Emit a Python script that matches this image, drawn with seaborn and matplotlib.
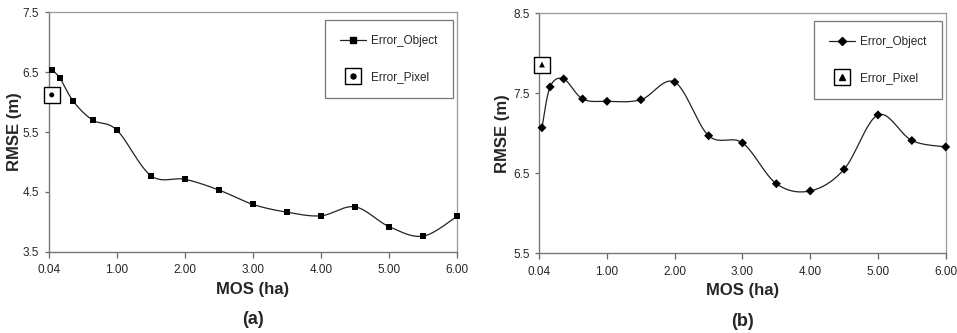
import numpy as np
import matplotlib
matplotlib.use("Agg")
import matplotlib.pyplot as plt
from matplotlib.lines import Line2D
import seaborn as sns

# data
mos = [0.04, 0.16, 0.36, 0.64, 1.00, 1.5, 2.0, 2.5, 3.0, 3.5, 4.0, 4.5, 5.0, 5.5, 6.0]
rmse_a = [6.54, 6.40, 6.01, 5.70, 5.53, 4.77, 4.71, 4.53, 4.29, 4.16, 4.10, 4.25, 3.92, 3.76, 4.09]
rmse_b = [7.07, 7.58, 7.68, 7.43, 7.40, 7.42, 7.64, 6.97, 6.88, 6.37, 6.28, 6.55, 7.23, 6.91, 6.83]
pixel_a = 6.12
pixel_b = 7.86
xtick_pos = [0, 1, 2, 3, 4, 5, 6]
xtick_labels = ["0.04", "1.00", "2.00", "3.00", "4.00", "5.00", "6.00"]

sns.set_style("ticks")
plt.rcParams["font.family"] = ["Liberation Sans", "DejaVu Sans"]


def smooth(x, y, sx, sy, n=40):
    # Excel style smoothed line (bezier through the points)
    P = np.column_stack([np.array(x) * sx, np.array(y) * sy])
    out = []
    for i in range(len(P) - 1):
        p0 = P[i - 1] if i > 0 else P[i]
        p1, p2 = P[i], P[i + 1]
        p3 = P[i + 2] if i + 2 < len(P) else P[i + 1]
        c1 = p1 + (p2 - p0) / 6
        c2 = p2 - (p3 - p1) / 6
        t = np.linspace(0, 1, n)[:, None]
        seg = (1 - t) ** 3 * p1 + 3 * (1 - t) ** 2 * t * c1 + 3 * (1 - t) * t ** 2 * c2 + t ** 3 * p2
        out.append(seg if i == 0 else seg[1:])
    out = np.vstack(out)
    return out[:, 0] / sx, out[:, 1] / sy


fig = plt.figure(figsize=(9.57, 3.33), dpi=100)
ax_a = fig.add_axes([0.0512, 0.2441, 0.4263, 0.719])
ax_b = fig.add_axes([0.5635, 0.2393, 0.4247, 0.7207])

panels = [
    (ax_a, rmse_a, pixel_a, "s", 4.3, "o", 3.6, (3.5, 7.5), [3.5, 4.5, 5.5, 6.5, 7.5], 60, "(a)", -0.066),
    (ax_b, rmse_b, pixel_b, "D", 4.6, "^", 4.2, (5.5, 8.5), [5.5, 6.5, 7.5, 8.5], 80, "(b)", -0.072),
]

for ax, vals, pix, mk, ms, pmk, pms, ylim, yticks, ypx, tag, ylab_x in panels:
    cx, cy = smooth(mos, vals, 68, ypx)
    sns.lineplot(x=cx, y=cy, sort=False, estimator=None, color="#222222", lw=0.9, ax=ax)
    sns.scatterplot(x=mos, y=vals, marker=mk, s=ms ** 2, color="black", edgecolor="none",
                    ax=ax, zorder=3, clip_on=False)
    # Error_Pixel: open box with small symbol inside
    sns.scatterplot(x=[mos[0]], y=[pix], marker="s", s=11.5 ** 2, facecolor="white",
                    edgecolor="black", linewidth=1.0, ax=ax, zorder=3, clip_on=False)
    sns.scatterplot(x=[mos[0]], y=[pix], marker=pmk, s=pms ** 2, color="black",
                    edgecolor="none", ax=ax, zorder=4, clip_on=False)

    ax.set_xlim(0, 6)
    ax.set_ylim(*ylim)
    ax.set_xticks(xtick_pos)
    ax.set_xticklabels(xtick_labels)
    ax.set_yticks(yticks)
    ax.set_yticklabels([f"{v:.1f}" for v in yticks])
    ax.tick_params(labelsize=8.5, length=4, width=0.9, color="#666666", pad=5)
    ax.tick_params(axis="y", length=3, pad=4)
    for side in ["left", "bottom"]:
        ax.spines[side].set_color("#777777")
        ax.spines[side].set_linewidth(1.0)
    for side in ["top", "right"]:
        ax.spines[side].set_color("#999999")
        ax.spines[side].set_linewidth(0.9)
    ax.set_xlabel("MOS (ha)", fontsize=12, fontweight="bold", labelpad=4)
    ax.set_ylabel("RMSE (m)", fontsize=12, fontweight="bold")
    ax.yaxis.set_label_coords(ylab_x, 0.5)
    ax.annotate(tag, xy=(0.5, -0.285), xycoords="axes fraction", ha="center", va="center",
                fontsize=13, fontweight="bold")

    h_obj = Line2D([], [], color="#222222", lw=0.9, marker=mk, markersize=ms * 0.9,
                   markerfacecolor="black", markeredgecolor="black")
    h_box = Line2D([], [], ls="", marker="s", markersize=11, markerfacecolor="white",
                   markeredgecolor="black", markeredgewidth=1.0)
    h_sym = Line2D([], [], ls="", marker=pmk, markersize=pms, color="black")
    leg = ax.legend([h_obj, (h_box, h_sym)], ["Error_Object", "Error_Pixel"],
                    loc="upper right", bbox_to_anchor=(0.99, 0.968), fontsize=8.5,
                    frameon=True, fancybox=False, framealpha=1, edgecolor="#777777",
                    labelspacing=2.0, borderpad=1.3, handlelength=2.2, handletextpad=0.4,
                    borderaxespad=0)
    leg.get_frame().set_linewidth(0.9)

fig.savefig("out.png", dpi=100)
